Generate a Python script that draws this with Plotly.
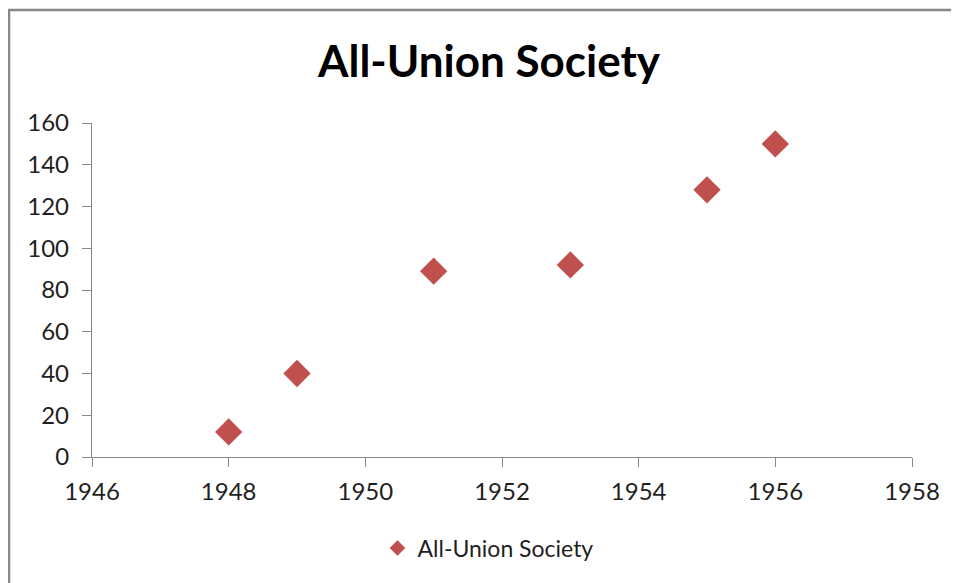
import plotly.graph_objects as go

years = [1948, 1949, 1951, 1953, 1955, 1956]
values = [12, 40, 89, 92, 128, 150]
series_name = "All-Union Society"
title_text = "All-Union Society"
x_ticks = [1946, 1948, 1950, 1952, 1954, 1956, 1958]
y_ticks = [0, 20, 40, 60, 80, 100, 120, 140, 160]

# the page body adds an 8px offset, so the figure is sized to fit inside the window
W, H = 951, 575
ml, mr, mt, mb = 84, 47, 115, 126
pw, ph = W - ml - mr, H - mt - mb

fig = go.Figure()
fig.add_trace(go.Scatter(
    x=years, y=values, mode="markers", name=series_name,
    marker=dict(symbol="diamond", size=21, color="#C0504D",
                line=dict(width=0)),
    cliponaxis=False,
))

axis_common = dict(
    showgrid=False, zeroline=False, showline=True, linecolor="#888888",
    linewidth=1.3, ticks="outside", tickcolor="#888888", ticklen=9,
    tickwidth=1.3,
    tickfont=dict(family="Lato, Open Sans, sans-serif", size=24, color="#1f1f1f"),
)

fig.update_layout(
    width=W, height=H,
    margin=dict(l=ml, r=mr, t=mt, b=mb),
    paper_bgcolor="white", plot_bgcolor="white",
    title=dict(text="<b>" + title_text + "</b>", x=(481 - ml) / pw, xref="paper",
               xanchor="center", y=1 - 54 / H, yanchor="middle",
               font=dict(family="Lato, Open Sans, sans-serif", size=44, color="black")),
    xaxis=dict(range=[1946, 1958], tickvals=x_ticks, ticklabelstandoff=4, **axis_common),
    yaxis=dict(range=[0, 160], tickvals=y_ticks, ticklabelstandoff=8, **axis_common),
    showlegend=True,
    legend=dict(orientation="h", x=(480 - ml) / pw, xanchor="center", y=(449 - 540) / ph,
                yanchor="middle", font=dict(family="Lato, Open Sans, sans-serif", size=23, color="#1f1f1f"),
                itemsizing="constant", bgcolor="rgba(0,0,0,0)"),
)

# outer chart border (extends beyond the page at right and bottom)
fig.add_shape(type="rect", xref="paper", yref="paper",
              x0=(1 - ml) / pw, x1=(W + 20 - ml) / pw,
              y0=-(H + 20 - mt - ph) / ph, y1=1 + (mt - 2) / ph,
              line=dict(color="#888888", width=2.5), fillcolor="rgba(0,0,0,0)",
              layer="below")

fig.write_html("out.html")
